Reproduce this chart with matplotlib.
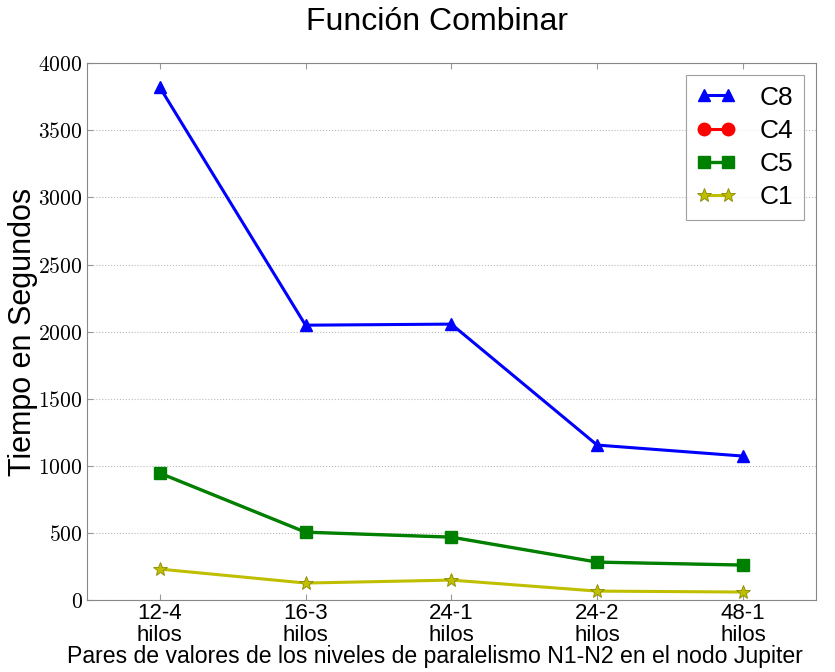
import numpy as np
import matplotlib
matplotlib.use("Agg")
import matplotlib.pyplot as plt

plt.rcParams['font.family'] = ['Liberation Sans', 'DejaVu Sans']
plt.rcParams['mathtext.fontset'] = 'cm'

# datos
categorias = ["12-4\nhilos", "16-3\nhilos", "24-1\nhilos", "24-2\nhilos", "48-1\nhilos"]
c8 = [3821, 2048, 2056, 1155, 1073]
c4 = [946, 506, 469, 283, 261]
c5 = [946, 506, 469, 283, 261]
c1 = [231, 127, 149, 67, 60]
yticks = [0, 500, 1000, 1500, 2000, 2500, 3000, 3500, 4000]

fig = plt.figure(figsize=(8.35, 6.72), dpi=100)
ax = fig.add_axes([0.104, 0.107, 0.873, 0.799])

x = np.arange(len(categorias))
ax.plot(x, c8, color='b', marker='^', markersize=9, linewidth=2.2, label='C8')
# C4 queda tapada por C5
ax.plot(x, c4, color='r', marker='o', markersize=7, linewidth=1.5, label='C4')
ax.plot(x, c5, color='g', marker='s', markersize=9, linewidth=2.4, label='C5')
ax.plot(x, c1, color='y', marker='*', markersize=10, linewidth=2.2, label='C1',
        markeredgecolor='#888800', markeredgewidth=0.6)

ax.set_xlim(-0.5, len(categorias) - 0.5)
ax.set_ylim(0, 4000)
ax.set_xticks(x)
ax.set_xticklabels(categorias, fontsize=16, linespacing=1.1)
ax.set_yticks(yticks)
ax.set_yticklabels(['$%d$' % v for v in yticks], fontsize=15.5)
ax.tick_params(direction='in', length=4, color='#999999', pad=3)
ax.tick_params(axis='x', top=True, pad=2)
ax.yaxis.grid(True, linestyle=':', color='#bbbbbb', linewidth=0.8)
for s in ax.spines.values():
    s.set_color('#888888')

ax.set_title("Función Combinar", fontsize=23, pad=24, x=0.48)
ax.set_ylabel("Tiempo en Segundos", fontsize=22)
ax.yaxis.set_label_coords(-0.067, 0.5)
ax.set_xlabel("Pares de valores de los niveles de paralelismo N1-N2 en el nodo Jupiter",
              fontsize=16.6, labelpad=-1)
ax.xaxis.set_label_coords(0.477, -0.083)

leg = ax.legend(loc='upper right', fontsize=19, numpoints=2, handlelength=1.5,
                handletextpad=0.9, fancybox=False, borderaxespad=0.45,
                labelspacing=0.35, borderpad=0.4)
leg.get_frame().set_edgecolor('#888888')
leg.get_frame().set_linewidth(0.8)
leg.get_lines()[1].set_markersize(9)
leg.get_lines()[1].set_linewidth(2.2)

fig.savefig("out.png", dpi=100)
